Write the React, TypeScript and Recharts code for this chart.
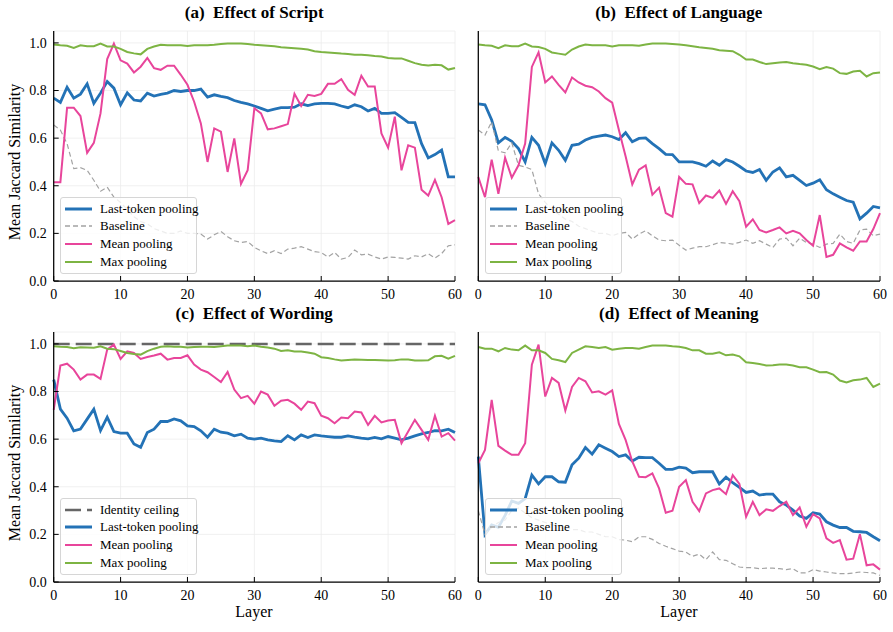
import { CartesianGrid, Line, LineChart, ReferenceLine, XAxis, YAxis } from "recharts";

const FONT = '"Liberation Serif", "Times New Roman", serif';
const BLUE = "#2372b6";
const PINK = "#e8459b";
const GREEN = "#7db443";
const GRAY = "#a3a3a3";
const DARK = "#666666";

const layers = [
  0, 1, 2, 3, 4, 5, 6, 7, 8, 9, 10, 11, 12, 13, 14, 15, 16, 17, 18, 19, 20,
  21, 22, 23, 24, 25, 26, 27, 28, 29, 30, 31, 32, 33, 34, 35, 36, 37, 38, 39, 40,
  41, 42, 43, 44, 45, 46, 47, 48, 49, 50, 51, 52, 53, 54, 55, 56, 57, 58, 59, 60,
];
const xTicks = [0, 10, 20, 30, 40, 50, 60];
const yTicks = [0, 0.2, 0.4, 0.6, 0.8, 1.0];
const IDENTITY_CEILING = 1.0;

// (a) script
const scriptLast = [
  0.768, 0.75, 0.814, 0.768, 0.785, 0.828, 0.746, 0.789, 0.838, 0.81, 0.74, 0.79, 0.76, 0.756, 0.789, 0.777,
  0.784, 0.789, 0.8, 0.796, 0.8, 0.8, 0.806, 0.772, 0.782, 0.775, 0.77, 0.758, 0.75, 0.744, 0.735,
  0.725, 0.715, 0.722, 0.728, 0.728, 0.73, 0.744, 0.737, 0.744, 0.746, 0.746, 0.744, 0.735, 0.728, 0.74,
  0.732, 0.714, 0.725, 0.704, 0.704, 0.707, 0.687, 0.666, 0.665, 0.577, 0.517, 0.531, 0.55, 0.437, 0.437,
];
const scriptBase = [
  0.655, 0.634, 0.577, 0.472, 0.476, 0.465, 0.423, 0.377, 0.394, 0.352, 0.33, 0.3, 0.27, 0.25, 0.24, 0.22,
  0.21, 0.2, 0.2, 0.21, 0.2, 0.2, 0.197, 0.176, 0.194, 0.208, 0.186, 0.169, 0.162, 0.166, 0.141,
  0.127, 0.115, 0.127, 0.115, 0.134, 0.138, 0.144, 0.134, 0.123, 0.12, 0.101, 0.12, 0.092, 0.099, 0.13,
  0.11, 0.113, 0.101, 0.092, 0.101, 0.099, 0.096, 0.092, 0.106, 0.101, 0.115, 0.096, 0.115, 0.148, 0.152,
];
const scriptMean = [
  0.415, 0.415, 0.728, 0.728, 0.693, 0.538, 0.58, 0.704, 0.932, 0.997, 0.927, 0.913, 0.876, 0.9, 0.937, 0.894,
  0.887, 0.904, 0.904, 0.866, 0.824, 0.753, 0.662, 0.5, 0.641, 0.627, 0.458, 0.599, 0.408, 0.465, 0.725,
  0.704, 0.637, 0.641, 0.65, 0.659, 0.786, 0.735, 0.782, 0.777, 0.786, 0.828, 0.828, 0.848, 0.803, 0.782,
  0.862, 0.817, 0.817, 0.62, 0.56, 0.69, 0.465, 0.57, 0.56, 0.383, 0.359, 0.425, 0.352, 0.24, 0.256,
];
const scriptMax = [
  0.993, 0.99, 0.988, 0.979, 0.99, 0.986, 0.986, 0.997, 0.985, 0.985, 0.975, 0.962, 0.956, 0.952, 0.975, 0.985,
  0.992, 0.99, 0.99, 0.99, 0.987, 0.99, 0.99, 0.99, 0.992, 0.995, 0.997, 0.997, 0.997, 0.995, 0.992,
  0.99, 0.988, 0.986, 0.982, 0.98, 0.978, 0.975, 0.972, 0.965, 0.962, 0.96, 0.958, 0.955, 0.953, 0.95,
  0.95, 0.948, 0.945, 0.943, 0.937, 0.935, 0.935, 0.925, 0.915, 0.908, 0.905, 0.908, 0.906, 0.888, 0.895,
];

// (b) language
const languageLast = [
  0.744, 0.74, 0.676, 0.58, 0.603, 0.587, 0.556, 0.5, 0.603, 0.57, 0.493, 0.58, 0.549, 0.507, 0.57, 0.575,
  0.592, 0.603, 0.608, 0.613, 0.606, 0.594, 0.623, 0.585, 0.599, 0.601, 0.577, 0.556, 0.532, 0.531, 0.5,
  0.5, 0.5, 0.493, 0.482, 0.504, 0.486, 0.51, 0.5, 0.482, 0.462, 0.456, 0.468, 0.423, 0.458, 0.475,
  0.437, 0.444, 0.423, 0.401, 0.411, 0.425, 0.383, 0.366, 0.352, 0.338, 0.331, 0.261, 0.285, 0.313, 0.307,
];
const languageBase = [
  0.634, 0.613, 0.669, 0.546, 0.538, 0.58, 0.486, 0.479, 0.468, 0.366, 0.33, 0.3, 0.28, 0.26, 0.25, 0.23,
  0.22, 0.21, 0.2, 0.2, 0.19, 0.2, 0.204, 0.176, 0.197, 0.211, 0.19, 0.172, 0.169, 0.172, 0.15,
  0.13, 0.138, 0.144, 0.144, 0.152, 0.162, 0.159, 0.155, 0.162, 0.172, 0.158, 0.169, 0.155, 0.141, 0.176,
  0.18, 0.148, 0.18, 0.162, 0.155, 0.141, 0.155, 0.158, 0.197, 0.166, 0.158, 0.214, 0.218, 0.19, 0.197,
];
const languageMean = [
  0.437, 0.352, 0.51, 0.366, 0.518, 0.434, 0.486, 0.577, 0.899, 0.96, 0.834, 0.859, 0.824, 0.792, 0.855, 0.834,
  0.82, 0.814, 0.796, 0.768, 0.749, 0.634, 0.524, 0.406, 0.468, 0.486, 0.362, 0.392, 0.285, 0.27, 0.437,
  0.408, 0.406, 0.327, 0.359, 0.349, 0.38, 0.324, 0.377, 0.335, 0.228, 0.259, 0.214, 0.204, 0.214, 0.225,
  0.2, 0.211, 0.2, 0.172, 0.148, 0.277, 0.101, 0.11, 0.158, 0.141, 0.127, 0.166, 0.166, 0.218, 0.285,
];
const languageMax = [
  0.993, 0.99, 0.988, 0.978, 0.99, 0.986, 0.986, 0.997, 0.985, 0.983, 0.975, 0.96, 0.955, 0.95, 0.972, 0.985,
  0.993, 0.99, 0.99, 0.99, 0.985, 0.99, 0.99, 0.99, 0.988, 0.993, 0.997, 0.997, 0.997, 0.995, 0.993,
  0.99, 0.986, 0.982, 0.979, 0.975, 0.969, 0.967, 0.965, 0.95, 0.93, 0.93, 0.92, 0.911, 0.915, 0.918,
  0.92, 0.915, 0.911, 0.908, 0.901, 0.89, 0.899, 0.892, 0.873, 0.87, 0.88, 0.883, 0.859, 0.873, 0.876,
];

// (c) wording
const wordingLast = [
  0.85, 0.726, 0.688, 0.635, 0.642, 0.684, 0.726, 0.636, 0.692, 0.632, 0.625, 0.625, 0.58, 0.566, 0.628, 0.642,
  0.674, 0.674, 0.685, 0.677, 0.656, 0.653, 0.635, 0.608, 0.642, 0.629, 0.625, 0.614, 0.621, 0.604, 0.6,
  0.604, 0.597, 0.593, 0.59, 0.614, 0.597, 0.618, 0.607, 0.618, 0.614, 0.611, 0.608, 0.608, 0.614, 0.608,
  0.604, 0.601, 0.607, 0.601, 0.611, 0.604, 0.597, 0.604, 0.614, 0.622, 0.628, 0.636, 0.635, 0.642, 0.628,
];
const wordingMean = [
  0.723, 0.909, 0.917, 0.892, 0.85, 0.871, 0.871, 0.853, 0.976, 0.997, 0.937, 0.969, 0.962, 0.937, 0.945, 0.951,
  0.959, 0.934, 0.941, 0.941, 0.952, 0.913, 0.892, 0.881, 0.861, 0.84, 0.882, 0.808, 0.772, 0.782, 0.749,
  0.8, 0.787, 0.74, 0.761, 0.765, 0.749, 0.723, 0.758, 0.751, 0.698, 0.688, 0.667, 0.691, 0.688, 0.716,
  0.712, 0.66, 0.698, 0.67, 0.678, 0.681, 0.583, 0.632, 0.681, 0.639, 0.597, 0.698, 0.611, 0.625, 0.594,
];
const wordingMax = [
  0.99, 0.988, 0.987, 0.982, 0.986, 0.985, 0.984, 0.99, 0.98, 0.978, 0.97, 0.962, 0.958, 0.955, 0.97, 0.98,
  0.988, 0.99, 0.988, 0.988, 0.985, 0.987, 0.988, 0.988, 0.987, 0.99, 0.993, 0.993, 0.993, 0.99, 0.993,
  0.988, 0.985, 0.98, 0.97, 0.973, 0.968, 0.968, 0.964, 0.959, 0.944, 0.941, 0.935, 0.93, 0.932, 0.934,
  0.933, 0.932, 0.932, 0.931, 0.93, 0.931, 0.935, 0.934, 0.93, 0.93, 0.931, 0.948, 0.95, 0.938, 0.95,
];

// (d) meaning
const meaningLast = [
  0.527, 0.2, 0.24, 0.23, 0.28, 0.34, 0.33, 0.35, 0.449, 0.412, 0.442, 0.442, 0.421, 0.419, 0.492, 0.52,
  0.565, 0.537, 0.576, 0.562, 0.548, 0.527, 0.534, 0.508, 0.524, 0.522, 0.522, 0.499, 0.473, 0.473, 0.482,
  0.478, 0.459, 0.463, 0.463, 0.463, 0.412, 0.44, 0.417, 0.397, 0.376, 0.382, 0.365, 0.369, 0.369, 0.337,
  0.323, 0.302, 0.277, 0.267, 0.291, 0.285, 0.253, 0.239, 0.229, 0.229, 0.213, 0.211, 0.208, 0.19, 0.173,
];
const meaningBase = [
  0.3, 0.2, 0.23, 0.25, 0.26, 0.3, 0.31, 0.29, 0.27, 0.26, 0.25, 0.24, 0.235, 0.23, 0.22, 0.22,
  0.21, 0.21, 0.2, 0.19, 0.19, 0.178, 0.176, 0.169, 0.19, 0.19, 0.179, 0.162, 0.15, 0.14, 0.13,
  0.126, 0.108, 0.117, 0.094, 0.126, 0.094, 0.091, 0.077, 0.063, 0.06, 0.06, 0.056, 0.058, 0.058, 0.056,
  0.052, 0.056, 0.038, 0.038, 0.052, 0.046, 0.042, 0.038, 0.035, 0.035, 0.038, 0.042, 0.04, 0.038, 0.028,
];
const meaningMean = [
  0.499, 0.555, 0.765, 0.572, 0.552, 0.534, 0.534, 0.583, 0.913, 0.997, 0.779, 0.857, 0.836, 0.72, 0.819, 0.857,
  0.843, 0.796, 0.801, 0.787, 0.805, 0.664, 0.597, 0.506, 0.442, 0.44, 0.456, 0.393, 0.291, 0.299, 0.4,
  0.428, 0.337, 0.298, 0.372, 0.386, 0.393, 0.369, 0.449, 0.412, 0.274, 0.337, 0.281, 0.305, 0.299, 0.319,
  0.337, 0.281, 0.313, 0.232, 0.285, 0.267, 0.183, 0.164, 0.176, 0.094, 0.098, 0.201, 0.07, 0.074, 0.052,
];
const meaningMax = [
  0.987, 0.98, 0.98, 0.969, 0.983, 0.976, 0.973, 0.993, 0.973, 0.973, 0.962, 0.937, 0.931, 0.924, 0.962, 0.976,
  0.99, 0.987, 0.983, 0.987, 0.976, 0.98, 0.983, 0.983, 0.98, 0.987, 0.993, 0.993, 0.993, 0.99, 0.988,
  0.983, 0.973, 0.973, 0.959, 0.959, 0.965, 0.952, 0.955, 0.948, 0.923, 0.92, 0.916, 0.909, 0.91, 0.913,
  0.913, 0.909, 0.902, 0.902, 0.892, 0.881, 0.882, 0.871, 0.846, 0.838, 0.847, 0.85, 0.857, 0.819, 0.833,
];

type Row = { layer: number; last: number; mean: number; max: number; base?: number };

function rows(last: number[], mean: number[], max: number[], base?: number[]): Row[] {
  return layers.map((layer, i) => ({
    layer,
    last: last[i],
    mean: mean[i],
    max: max[i],
    base: base ? base[i] : undefined,
  }));
}

interface LegendItem {
  label: string;
  color: string;
  width: number;
  dash?: string;
}

const lastItem: LegendItem = { label: "Last-token pooling", color: BLUE, width: 3 };
const baseItem: LegendItem = { label: "Baseline", color: GRAY, width: 1.3, dash: "5 3" };
const meanItem: LegendItem = { label: "Mean pooling", color: PINK, width: 2 };
const maxItem: LegendItem = { label: "Max pooling", color: GREEN, width: 2 };
const ceilItem: LegendItem = { label: "Identity ceiling", color: DARK, width: 2.5, dash: "16 6" };

function LegendBox({ items }: { items: LegendItem[] }) {
  return (
    <div
      style={{
        position: "absolute",
        left: 60,
        top: 197,
        width: 137,
        height: 77,
        boxSizing: "border-box",
        border: "1px solid #d6d6d6",
        borderRadius: 3,
        background: "rgba(255,255,255,0.8)",
        paddingTop: 2,
        fontFamily: FONT,
        fontSize: 13,
        color: "#000",
      }}
    >
      {items.map((it) => (
        <div key={it.label} style={{ height: 17.6, display: "flex", alignItems: "center" }}>
          <svg width={36} height={10} style={{ marginLeft: 3, flex: "none" }}>
            <line x1={1} y1={5} x2={28} y2={5} stroke={it.color} strokeWidth={it.width} strokeDasharray={it.dash} />
          </svg>
          <span style={{ whiteSpace: "nowrap", fontFamily: FONT }}>{it.label}</span>
        </div>
      ))}
    </div>
  );
}

const tickStyle = { fill: "#000", fontSize: 14, fontFamily: FONT };
const axisStyle = { stroke: "#000", strokeWidth: 1.25 };

function Panel({
  left,
  top,
  marginLeft,
  title,
  data,
  yLabels,
  ceiling,
  legend,
}: {
  left: number;
  top: number;
  marginLeft: number;
  title: string;
  data: Row[];
  yLabels: boolean;
  ceiling?: boolean;
  legend: LegendItem[];
}) {
  return (
    <div style={{ position: "absolute", left, top, width: 470, height: 310, fontFamily: FONT }}>
      <div
        style={{
          position: "absolute",
          left: marginLeft + 40,
          width: 401,
          top: 3,
          textAlign: "center",
          fontFamily: FONT,
          fontWeight: "bold",
          fontSize: 17,
          whiteSpace: "pre",
        }}
      >
        {title}
      </div>
      <LineChart
        width={470}
        height={310}
        data={data}
        style={{ fontFamily: FONT }}
        margin={{ top: 31, right: 15, bottom: 9, left: marginLeft }}
      >
        <CartesianGrid stroke="#ececec" strokeWidth={0.8} />
        <XAxis
          type="number"
          dataKey="layer"
          domain={[0, 60]}
          ticks={xTicks}
          interval={0}
          height={20}
          tickSize={-5}
          tickMargin={13}
          axisLine={axisStyle}
          tickLine={{ stroke: "#000", strokeWidth: 1 }}
          tick={tickStyle}
        />
        <YAxis
          type="number"
          domain={[0, 1.05]}
          ticks={yTicks}
          interval={0}
          width={40}
          tickSize={-5}
          tickMargin={12}
          axisLine={axisStyle}
          tickLine={{ stroke: "#000", strokeWidth: 1 }}
          tick={yLabels ? tickStyle : false}
          tickFormatter={(v: number) => v.toFixed(1)}
        />
        {ceiling && (
          <ReferenceLine y={IDENTITY_CEILING} stroke={DARK} strokeWidth={2.5} strokeDasharray="16 6" />
        )}
        <Line type="linear" dataKey="last" stroke={BLUE} strokeWidth={2.8} dot={false} isAnimationActive={false} />
        {!ceiling && (
          <Line
            type="linear"
            dataKey="base"
            stroke={GRAY}
            strokeWidth={1.2}
            strokeDasharray="5 3"
            dot={false}
            isAnimationActive={false}
          />
        )}
        <Line type="linear" dataKey="mean" stroke={PINK} strokeWidth={2} dot={false} isAnimationActive={false} />
        <Line type="linear" dataKey="max" stroke={GREEN} strokeWidth={2} dot={false} isAnimationActive={false} />
      </LineChart>
      <LegendBox items={legend} />
    </div>
  );
}

const sideLabel = {
  position: "absolute" as const,
  fontFamily: FONT,
  fontSize: 16,
  whiteSpace: "nowrap" as const,
};

export default function App() {
  const regular = [lastItem, baseItem, meanItem, maxItem];
  return (
    <div
      style={{
        position: "absolute",
        left: 0,
        top: 0,
        width: 893,
        height: 632,
        background: "#fff",
        overflow: "hidden",
        fontFamily: FONT,
      }}
    >
      <Panel left={0} top={0} marginLeft={13.7} title="(a)  Effect of Script" data={rows(scriptLast, scriptMean, scriptMax, scriptBase)} yLabels legend={regular} />
      <Panel left={425} top={0} marginLeft={13.3} title="(b)  Effect of Language" data={rows(languageLast, languageMean, languageMax, languageBase)} yLabels={false} legend={regular} />
      <Panel left={0} top={301} marginLeft={13.7} title="(c)  Effect of Wording" data={rows(wordingLast, wordingMean, wordingMax)} yLabels ceiling legend={[ceilItem, lastItem, meanItem, maxItem]} />
      <Panel left={425} top={301} marginLeft={13.3} title="(d)  Effect of Meaning" data={rows(meaningLast, meaningMean, meaningMax, meaningBase)} yLabels={false} legend={regular} />
      <div style={{ ...sideLabel, left: 15, top: 162, transform: "translate(-50%, -50%) rotate(-90deg)" }}>Mean Jaccard Similarity</div>
      <div style={{ ...sideLabel, left: 15, top: 463, transform: "translate(-50%, -50%) rotate(-90deg)" }}>Mean Jaccard Similarity</div>
      <div style={{ ...sideLabel, left: 254, top: 612, transform: "translate(-50%, -50%)" }}>Layer</div>
      <div style={{ ...sideLabel, left: 679, top: 612, transform: "translate(-50%, -50%)" }}>Layer</div>
    </div>
  );
}
